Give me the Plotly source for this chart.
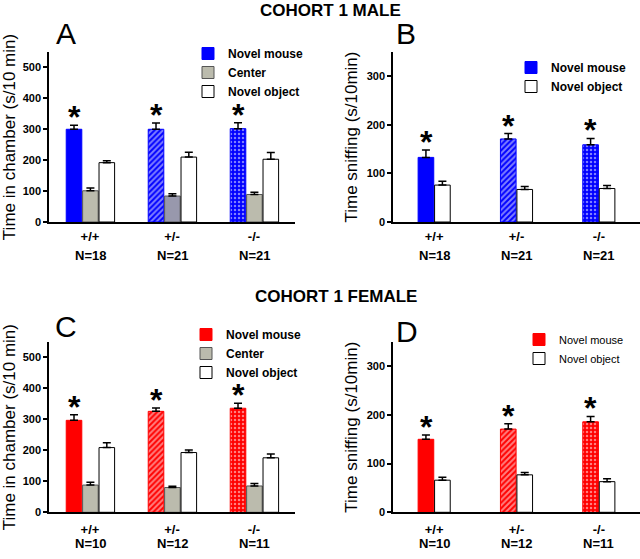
import plotly.graph_objects as go

# ---- data ----
genotypes = ['+/+', '+/-', '-/-']
n_male = [18, 21, 21]
n_female = [10, 12, 11]

a_mouse = [300, 300, 302]
a_mouse_err = [13, 20, 19]
a_center = [101, 84, 89]
a_center_err = [9, 7, 7]
a_object = [192, 210, 203]
a_object_err = [6, 16, 22]

b_mouse = [133, 171, 159]
b_mouse_err = [15, 11, 13]
b_object = [76, 67, 69]
b_object_err = [8, 6, 6]

c_mouse = [297, 326, 336]
c_mouse_err = [18, 11, 16]
c_center = [88, 80, 85]
c_center_err = [9, 4, 8]
c_object = [209, 193, 176]
c_object_err = [16, 8, 12]

d_mouse = [150, 171, 186]
d_mouse_err = [9, 11, 11]
d_object = [66, 77, 63]
d_object_err = [6, 5, 6]

FONT = 'Liberation Sans, Arial, sans-serif'
BLUE = '#0000ff'
RED = '#ff0000'
GRAY = '#bbbbad'


def px_x(p):
    return p / 640


def px_y(p):
    return 1 - p / 559


def errbar(err):
    return dict(type='data', array=err, arrayminus=[0] * len(err), symmetric=False,
                visible=True, color='black', thickness=1.5, width=4)


def mouse_bar(vals, err, color, xa, ya, leg, offset):
    # solid / hatched / dotted for +/+, +/-, -/-
    return go.Bar(
        x=genotypes, y=vals, name='Novel mouse', xaxis=xa, yaxis=ya, legend=leg,
        width=0.19, offset=offset,
        marker=dict(
            color=color,
            line=dict(color=color, width=1),
            pattern=dict(shape=['', '/', '.'], fillmode='overlay', size=4,
                         solidity=[0.5, 0.5, 0.3]),
        ),
        error_y=errbar(err),
    )


def plain_bar(vals, err, name, fill, line, xa, ya, leg, offset):
    return go.Bar(
        x=genotypes, y=vals, name=name, xaxis=xa, yaxis=ya, legend=leg,
        width=0.19, offset=offset,
        marker=dict(color=fill, line=dict(color=line, width=1)),
        error_y=errbar(err),
    )


traces = [
    mouse_bar(a_mouse, a_mouse_err, BLUE, 'x', 'y', 'legend', -0.29),
    plain_bar(a_center, a_center_err, 'Center', [GRAY, '#9898ac', GRAY], '#555555',
              'x', 'y', 'legend', -0.09),
    plain_bar(a_object, a_object_err, 'Novel object', 'white', 'black', 'x', 'y', 'legend', 0.11),
    mouse_bar(b_mouse, b_mouse_err, BLUE, 'x2', 'y2', 'legend2', -0.195),
    plain_bar(b_object, b_object_err, 'Novel object', 'white', 'black', 'x2', 'y2', 'legend2', 0.005),
    mouse_bar(c_mouse, c_mouse_err, RED, 'x3', 'y3', 'legend3', -0.29),
    plain_bar(c_center, c_center_err, 'Center', GRAY, '#555555', 'x3', 'y3', 'legend3', -0.09),
    plain_bar(c_object, c_object_err, 'Novel object', 'white', 'black', 'x3', 'y3', 'legend3', 0.11),
    mouse_bar(d_mouse, d_mouse_err, RED, 'x4', 'y4', 'legend4', -0.195),
    plain_bar(d_object, d_object_err, 'Novel object', 'white', 'black', 'x4', 'y4', 'legend4', 0.005),
]

fig = go.Figure(traces)


def xaxis(domain, anchor, standoff):
    return dict(domain=domain, anchor=anchor, range=[-0.5, 2.5], showline=True,
                linecolor='black', linewidth=1.5, ticks='', showgrid=False, zeroline=False,
                automargin=False, ticklabelstandoff=standoff,
                tickfont=dict(family=FONT, size=13, color='black', weight='bold'))


def yaxis(domain, anchor, rng, title, standoff):
    return dict(domain=domain, anchor=anchor, range=rng, dtick=100, showline=True,
                linecolor='black', linewidth=1.5, ticks='outside', ticklen=4, tickwidth=1.5,
                tickcolor='black', showgrid=False, zeroline=False, automargin=False,
                tickfont=dict(family=FONT, size=11, color='black', weight='bold'),
                title=dict(text=title, standoff=standoff,
                           font=dict(family=FONT, size=17, color='black')))


top = [px_y(222), px_y(52)]
bottom = [px_y(512.3), px_y(342)]
left = [px_x(49), px_x(295)]
right = [px_x(393), px_x(640)]


def legend(text_x, row1_y, size, weight):
    return dict(x=px_x(text_x - 40), y=px_y(row1_y - 14), xanchor='left', yanchor='top',
                bgcolor='rgba(0,0,0,0)', tracegroupgap=0,
                font=dict(family=FONT, size=size, color='black', weight=weight))


annotations = []
# asterisks above the novel mouse bars, N labels under the genotype labels
for vals, err, ns, xr, yr, xs, nshift in [(a_mouse, a_mouse_err, n_male, 'x', 'y', -16, -34),
                                          (b_mouse, b_mouse_err, n_male, 'x2', 'y2', -8, -34),
                                          (c_mouse, c_mouse_err, n_female, 'x3', 'y3', -16, -31),
                                          (d_mouse, d_mouse_err, n_female, 'x4', 'y4', -8, -31)]:
    for g, v, e, n in zip(genotypes, vals, err, ns):
        annotations.append(dict(x=g, y=v + e, xref=xr, yref=yr, text='*', showarrow=False,
                                xanchor='center', yanchor='middle', xshift=xs, yshift=8,
                                font=dict(family=FONT, size=32, color='black', weight='bold')))
        annotations.append(dict(x=g, y=0, xref=xr, yref=yr + ' domain', text='N=' + str(n),
                                showarrow=False, xanchor='center', yanchor='middle', yshift=nshift,
                                font=dict(family=FONT, size=13, color='black', weight='bold')))

for txt, x, y, size, weight in [('COHORT 1 MALE', 330, 10, 17, 'bold'),
                                ('COHORT 1 FEMALE', 336, 296, 17, 'bold'),
                                ('A', 66, 34, 30, 'normal'), ('B', 406, 33, 30, 'normal'),
                                ('C', 66, 326, 30, 'normal'), ('D', 407, 331, 30, 'normal')]:
    annotations.append(dict(x=px_x(x), y=px_y(y), xref='paper', yref='paper', text=txt,
                            showarrow=False, xanchor='center', yanchor='middle',
                            font=dict(family=FONT, size=size, color='black', weight=weight)))

fig.update_layout(
    width=640, height=559,
    margin=dict(l=0, r=0, t=0, b=0, autoexpand=False),
    paper_bgcolor='white', plot_bgcolor='white',
    barmode='overlay',
    xaxis=xaxis(left, 'y', 2),
    yaxis=yaxis(top, 'x', [0, 550], 'Time in chamber (s/10 min)', 4),
    xaxis2=xaxis(right, 'y2', 2),
    yaxis2=yaxis(top, 'x2', [0, 350], 'Time sniffing (s/10min)', 5),
    xaxis3=xaxis(left, 'y3', 4),
    yaxis3=yaxis(bottom, 'x3', [0, 550], 'Time in chamber (s/10 min)', 4),
    xaxis4=xaxis(right, 'y4', 4),
    yaxis4=yaxis(bottom, 'x4', [0, 350], 'Time sniffing (s/10min)', 5),
    legend=legend(228, 53, 12, 'bold'),
    legend2=legend(551, 67, 12, 'bold'),
    legend3=legend(226, 334, 12, 'bold'),
    legend4=legend(559, 339, 11, 'normal'),
    annotations=annotations,
    showlegend=True,
)

# drop the browser's default 8px body margin so the 640x559 figure fills the window
fig.write_html('out.html', config={'displayModeBar': False},
               post_script="document.body.style.margin = '0';")
